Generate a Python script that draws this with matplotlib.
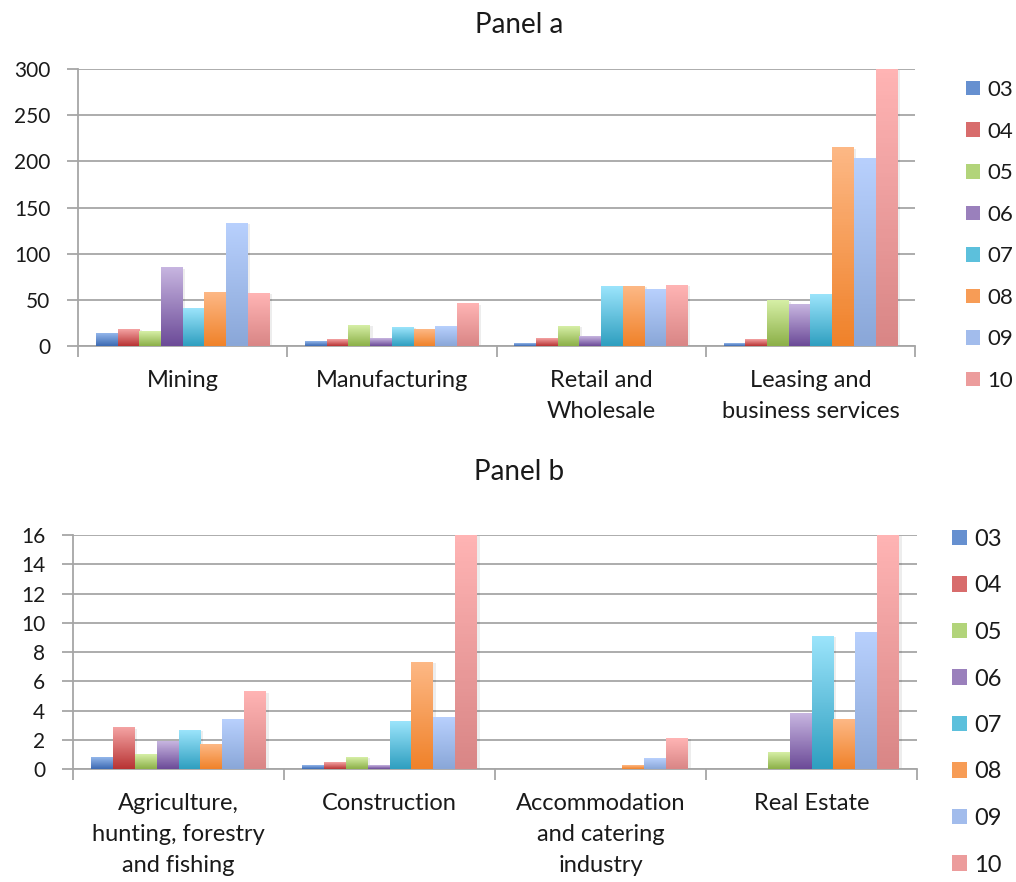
import numpy as np
import matplotlib
matplotlib.use("Agg")
import matplotlib.pyplot as plt
from matplotlib.colors import LinearSegmentedColormap
from matplotlib.patches import Patch

plt.rcParams['font.family'] = ['Lato', 'DejaVu Sans']

years = ["03", "04", "05", "06", "07", "08", "09", "10"]

cats_a = ["Mining", "Manufacturing", "Retail and\nWholesale",
          "Leasing and\nbusiness services"]
mining = [13.7, 18, 16, 85, 41, 58, 133, 57]
manufacturing = [5.4, 6.8, 22.7, 8.3, 20.5, 17.6, 21.6, 46]
retail = [2.9, 8.6, 21.6, 10.8, 64.7, 64.7, 61, 66]
leasing = [2.5, 6.5, 49, 44.6, 55.4, 215, 203, 300]

cats_b = ["Agriculture,\nhunting, forestry\nand fishing", "Construction",
          "Accommodation\nand catering\nindustry", "Real Estate"]
agriculture = [0.8, 2.83, 0.96, 1.87, 2.65, 1.69, 3.36, 5.27]
construction = [0.25, 0.46, 0.8, 0.25, 3.26, 7.3, 3.5, 16]
accommodation = [0, 0, 0, 0, 0, 0.25, 0.7, 2.1]
real_estate = [0, 0, 1.16, 3.8, 9.06, 3.36, 9.34, 16]

# (top, bottom) gradient colours per year
top_cols = ["#93b6ea", "#f4a3a3", "#d6efa6", "#c7b5e0", "#9be4fb",
            "#fdb885", "#b8d0fd", "#ffb4b4"]
bot_cols = ["#3c6ab3", "#b83434", "#8cb048", "#6c4b98", "#2f9fc0",
            "#f0822a", "#8aa7d8", "#d98686"]
mid_cols = ["#6690d0", "#d86c6c", "#b2d47a", "#9a80bc", "#5cc0dc",
            "#f79c56", "#a2bcec", "#ec9c9c"]

GRID = "#a6a6a6"
TXT = "#1a1a1a"


def draw_panel(ax, cats, series, ymax, ystep):
    n = len(series[0])
    w = 0.83 / n
    x = np.arange(len(cats))
    for k in range(n):
        vals = [s[k] for s in series]
        bars = ax.bar(x + (k - (n - 1) / 2) * w, vals, w, color="none",
                      edgecolor="none", label=years[k], zorder=3)
        cmap = LinearSegmentedColormap.from_list("g", [bot_cols[k], top_cols[k]])
        for r in bars:
            h = r.get_height()
            if h <= 0:
                continue
            # soft shadow
            ax.bar(r.get_x() + r.get_width() / 2 + 0.012, h, r.get_width(),
                   bottom=-ymax * 0.004, color="#000000", alpha=0.07,
                   zorder=2.5)
            ax.imshow(np.linspace(0, 1, 64).reshape(-1, 1), cmap=cmap,
                      origin="lower", aspect="auto", zorder=3,
                      extent=(r.get_x(), r.get_x() + r.get_width(), 0, h))
    ax.set_xlim(-0.5, len(cats) - 0.5)
    ax.set_ylim(0, ymax)
    ax.set_yticks(np.arange(0, ymax + ystep / 2, ystep))
    ax.yaxis.grid(True, color=GRID, lw=1.3, zorder=1)
    ax.set_axisbelow(True)
    ax.set_xticks(np.arange(-0.5, len(cats), 1.0))
    ax.set_xticklabels([])
    ax.set_xticks(x, minor=True)
    ax.set_xticklabels(cats, minor=True, fontsize=17, color=TXT,
                       linespacing=1.58, va="top")
    ax.tick_params(axis="x", which="minor", length=0, pad=17.5)
    ax.tick_params(axis="x", which="major", length=8, color=GRID, width=1.3)
    ax.tick_params(axis="y", length=8, color=GRID, width=1.3, pad=12,
                   labelsize=15, labelcolor=TXT)
    for s in ["top", "right"]:
        ax.spines[s].set_visible(False)
    for s in ["left", "bottom"]:
        ax.spines[s].set_color(GRID)
        ax.spines[s].set_linewidth(1.3)


fig = plt.figure(figsize=(10.16, 8.82), dpi=100)
ax1 = fig.add_axes([0.0768, 0.6077, 0.8238, 0.314])
ax2 = fig.add_axes([0.0719, 0.1281, 0.8307, 0.2653])

draw_panel(ax1, cats_a, [mining, manufacturing, retail, leasing], 300, 50)
draw_panel(ax2, cats_b, [agriculture, construction, accommodation, real_estate], 16, 2)

fig.text(0.511, 1 - 25 / 882, "Panel a", ha="center", va="center",
         fontsize=20, color=TXT)
fig.text(0.511, 1 - 472 / 882, "Panel b", ha="center", va="center",
         fontsize=20, color=TXT)

for ax, anchor, sp, fs in [(ax1, (966 / 1016, 1 - 80 / 882), 0.97, 16),
                           (ax2, (952 / 1016, 1 - 529 / 882), 1.08, 17)]:
    handles = [Patch(facecolor=c, edgecolor="none") for c in mid_cols]
    ax.legend(handles, years, loc="upper left", bbox_to_anchor=anchor,
              bbox_transform=fig.transFigure, frameon=False, fontsize=fs,
              handlelength=0.63, handleheight=0.63, handletextpad=0.32,
              labelspacing=sp, borderpad=0, borderaxespad=0,
              labelcolor=TXT)

fig.savefig("out.png", dpi=100)
